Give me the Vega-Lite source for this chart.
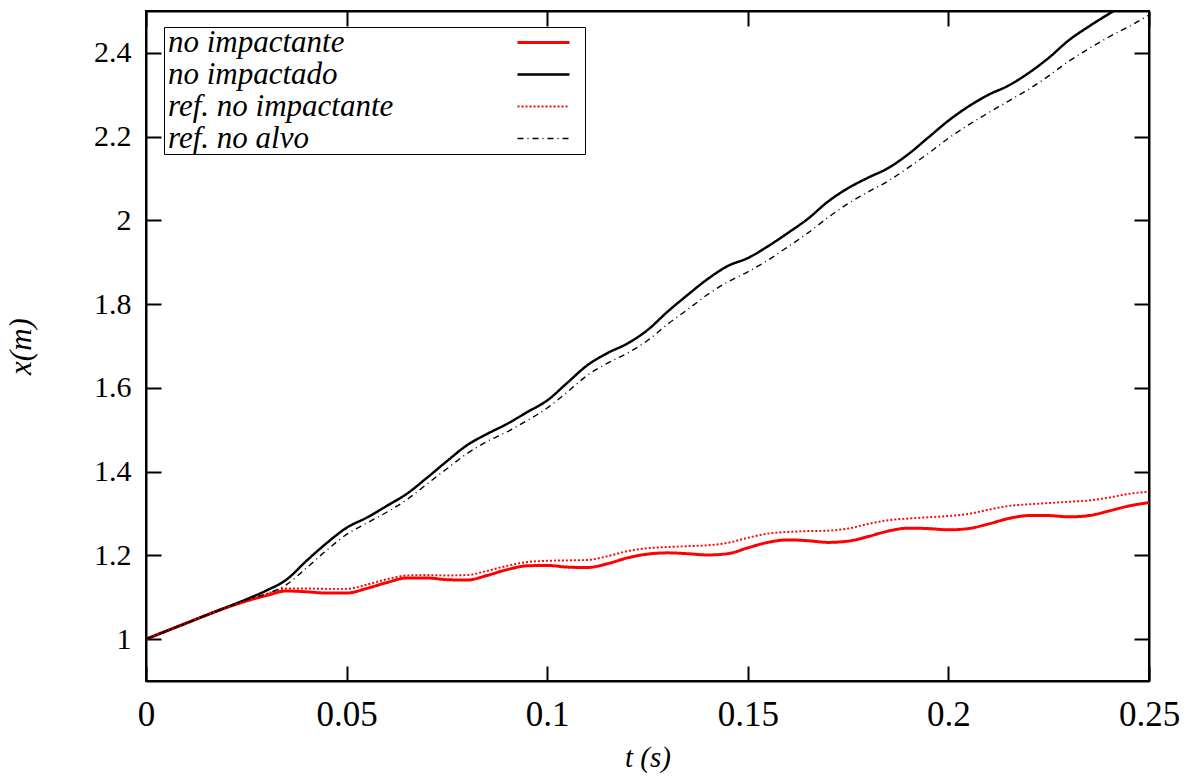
{
  "$schema": "https://vega.github.io/schema/vega-lite/v6.json",
  "autosize": {"type": "none"},
  "padding": {"left": 146, "top": 11, "right": 38, "bottom": 99},
  "width": 1003,
  "height": 670,
  "background": "white",
  "config": {
    "view": {"stroke": "black", "strokeWidth": 2},
    "axis": {"domainColor": "black", "domainWidth": 2, "tickColor": "black", "tickWidth": 2, "grid": false, "labelColor": "black", "titleColor": "black", "labelFont": "Liberation Serif", "titleFont": "Liberation Serif", "labelFlush": false}
  },
  "data": {"values": [
    {"t": 0, "a": 1.000, "b": 1.000, "c": 1.000, "d": 1.000},
    {"t": 0.005, "a": 1.019, "b": 1.019, "c": 1.019, "d": 1.019},
    {"t": 0.01, "a": 1.038, "b": 1.038, "c": 1.038, "d": 1.038},
    {"t": 0.015, "a": 1.057, "b": 1.057, "c": 1.057, "d": 1.057},
    {"t": 0.02, "a": 1.075, "b": 1.076, "c": 1.075, "d": 1.075},
    {"t": 0.025, "a": 1.091, "b": 1.095, "c": 1.092, "d": 1.093},
    {"t": 0.03, "a": 1.104, "b": 1.116, "c": 1.108, "d": 1.108},
    {"t": 0.035, "a": 1.115, "b": 1.142, "c": 1.121, "d": 1.130},
    {"t": 0.04, "a": 1.113, "b": 1.187, "c": 1.121, "d": 1.170},
    {"t": 0.045, "a": 1.110, "b": 1.229, "c": 1.120, "d": 1.212},
    {"t": 0.05, "a": 1.110, "b": 1.266, "c": 1.120, "d": 1.250},
    {"t": 0.055, "a": 1.121, "b": 1.290, "c": 1.130, "d": 1.277},
    {"t": 0.06, "a": 1.135, "b": 1.318, "c": 1.143, "d": 1.303},
    {"t": 0.065, "a": 1.146, "b": 1.347, "c": 1.152, "d": 1.333},
    {"t": 0.07, "a": 1.146, "b": 1.385, "c": 1.153, "d": 1.370},
    {"t": 0.075, "a": 1.142, "b": 1.425, "c": 1.152, "d": 1.407},
    {"t": 0.08, "a": 1.141, "b": 1.463, "c": 1.153, "d": 1.443},
    {"t": 0.085, "a": 1.152, "b": 1.490, "c": 1.163, "d": 1.472},
    {"t": 0.09, "a": 1.166, "b": 1.514, "c": 1.175, "d": 1.495},
    {"t": 0.095, "a": 1.175, "b": 1.542, "c": 1.184, "d": 1.522},
    {"t": 0.1, "a": 1.176, "b": 1.570, "c": 1.187, "d": 1.552},
    {"t": 0.105, "a": 1.172, "b": 1.612, "c": 1.188, "d": 1.590},
    {"t": 0.11, "a": 1.171, "b": 1.654, "c": 1.189, "d": 1.630},
    {"t": 0.115, "a": 1.180, "b": 1.683, "c": 1.198, "d": 1.659},
    {"t": 0.12, "a": 1.194, "b": 1.706, "c": 1.210, "d": 1.683},
    {"t": 0.125, "a": 1.203, "b": 1.738, "c": 1.217, "d": 1.713},
    {"t": 0.13, "a": 1.206, "b": 1.782, "c": 1.220, "d": 1.752},
    {"t": 0.135, "a": 1.204, "b": 1.822, "c": 1.222, "d": 1.787},
    {"t": 0.14, "a": 1.201, "b": 1.860, "c": 1.224, "d": 1.823},
    {"t": 0.145, "a": 1.204, "b": 1.891, "c": 1.230, "d": 1.853},
    {"t": 0.15, "a": 1.218, "b": 1.910, "c": 1.242, "d": 1.877},
    {"t": 0.155, "a": 1.231, "b": 1.938, "c": 1.252, "d": 1.905},
    {"t": 0.16, "a": 1.237, "b": 1.970, "c": 1.256, "d": 1.937},
    {"t": 0.165, "a": 1.235, "b": 2.004, "c": 1.258, "d": 1.970},
    {"t": 0.17, "a": 1.231, "b": 2.045, "c": 1.259, "d": 2.007},
    {"t": 0.175, "a": 1.234, "b": 2.077, "c": 1.264, "d": 2.040},
    {"t": 0.18, "a": 1.245, "b": 2.102, "c": 1.275, "d": 2.068},
    {"t": 0.185, "a": 1.258, "b": 2.125, "c": 1.284, "d": 2.094},
    {"t": 0.19, "a": 1.265, "b": 2.158, "c": 1.288, "d": 2.126},
    {"t": 0.195, "a": 1.264, "b": 2.198, "c": 1.291, "d": 2.160},
    {"t": 0.2, "a": 1.261, "b": 2.238, "c": 1.294, "d": 2.196},
    {"t": 0.205, "a": 1.264, "b": 2.272, "c": 1.299, "d": 2.228},
    {"t": 0.21, "a": 1.275, "b": 2.300, "c": 1.309, "d": 2.257},
    {"t": 0.215, "a": 1.288, "b": 2.322, "c": 1.318, "d": 2.285},
    {"t": 0.22, "a": 1.295, "b": 2.352, "c": 1.322, "d": 2.313},
    {"t": 0.225, "a": 1.295, "b": 2.388, "c": 1.325, "d": 2.345},
    {"t": 0.23, "a": 1.292, "b": 2.430, "c": 1.328, "d": 2.380},
    {"t": 0.235, "a": 1.295, "b": 2.463, "c": 1.331, "d": 2.410},
    {"t": 0.24, "a": 1.306, "b": 2.493, "c": 1.338, "d": 2.438},
    {"t": 0.245, "a": 1.318, "b": 2.520, "c": 1.347, "d": 2.463},
    {"t": 0.25, "a": 1.326, "b": 2.545, "c": 1.352, "d": 2.490}
  ]},
  "transform": [{"fold": ["a", "b", "c", "d"], "as": ["s", "x"]}],
  "layer": [
    {
      "mark": {"type": "line", "clip": true, "interpolate": "monotone"},
      "encoding": {
        "x": {"field": "t", "type": "quantitative", "scale": {"domain": [0, 0.25], "nice": false, "zero": false},
          "axis": {"orient": "bottom", "values": [0, 0.05, 0.1, 0.15, 0.2, 0.25], "format": "~g", "tickSize": -15, "labelPadding": 31, "labelFontSize": 35, "labelDx": 3, "title": "t (s)", "titleFontSize": 29, "titleFontStyle": "italic", "titleFontWeight": "normal", "titlePadding": 11}},
        "y": {"field": "x", "type": "quantitative", "scale": {"domain": [0.9, 2.5], "nice": false, "zero": false},
          "axis": {"orient": "left", "values": [1, 1.2, 1.4, 1.6, 1.8, 2, 2.2, 2.4], "format": "~g", "tickSize": -15, "labelPadding": 30, "labelFontSize": 30, "title": "x(m)", "titleFontSize": 31, "titleFontStyle": "italic", "titleFontWeight": "normal", "titlePadding": 56}},
        "color": {"field": "s", "type": "nominal", "scale": {"domain": ["a", "b", "c", "d"], "range": ["#ff0000", "#000000", "#ff0000", "#000000"]},
          "legend": {"orient": "none", "legendX": 18, "legendY": 16, "title": null, "symbolType": "M-2,0H2M2.7,0", "symbolSize": 676, "symbolOffset": 364, "labelOffset": -391, "labelFont": "Liberation Serif", "labelFontStyle": "italic", "labelFontSize": 31, "labelColor": "black", "labelLimit": 0, "rowPadding": 0, "padding": 0, "strokeColor": "black", "fillColor": "white",
            "labelExpr": "{'a': 'no impactante', 'b': 'no impactado', 'c': 'ref. no impactante', 'd': 'ref. no alvo'}[datum.value]"}},
        "strokeDash": {"field": "s", "type": "nominal", "scale": {"domain": ["a", "b", "c", "d"], "range": [[1, 0], [1, 0], [2, 2], [6, 4, 1, 4]]}},
        "strokeWidth": {"field": "s", "type": "nominal", "scale": {"domain": ["a", "b", "c", "d"], "range": [3, 1.4, 1.1, 1]}}
      }
    },
    {
      "mark": {"type": "point", "opacity": 0},
      "encoding": {
        "x": {"field": "t", "type": "quantitative", "axis": {"orient": "top", "values": [0, 0.05, 0.1, 0.15, 0.2, 0.25], "labels": false, "tickSize": -15, "title": null}},
        "y": {"field": "x", "type": "quantitative", "axis": {"orient": "right", "values": [1, 1.2, 1.4, 1.6, 1.8, 2, 2.2, 2.4], "labels": false, "tickSize": -15, "title": null}}
      }
    }
  ],
  "resolve": {"axis": {"x": "independent", "y": "independent"}}
}
